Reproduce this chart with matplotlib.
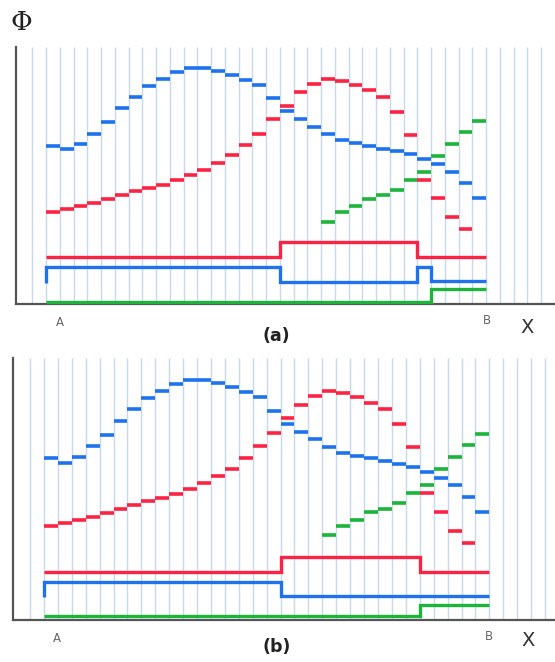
import numpy as np
import matplotlib
matplotlib.use("Agg")
import matplotlib.pyplot as plt

# ---------------- data (Φ in arbitrary units, x in cell index) ----------------
n_grid = 38  # vertical grid lines 0..37

# panel (a)
a_blue = [158.3, 154.7, 159.7, 170.3, 181.7, 195.7, 207, 218, 225.3, 231.7, 236, 236,
          233, 229.3, 224.3, 219, 205.7, 193, 184.7, 177, 170.3, 164.3, 160.7, 158.3,
          155.3, 153, 149.7, 144.7, 139.7, 132, 120.7, 105.7]
a_blue_cells = list(range(1, 33))
a_red = [92.3, 95.3, 98.3, 101.3, 105, 108.7, 113, 116.3, 119.3, 124, 129, 134.3, 141,
         148.7, 159.3, 170.3, 184.7, 198.3, 211.7, 220, 225, 223, 219.3, 213.7, 207,
         192.3, 169.3, 123.7, 105.7, 87.3, 74.7]
a_red_cells = list(range(1, 32))
a_green = [82.3, 91.7, 98.3, 105, 108.7, 114.3, 124, 132, 148, 160, 171.7, 183]
a_green_cells = list(range(21, 33))

a_red_edges = [1, 18, 28, 33]
a_red_levels = [47, 61.7, 47]
a_blue_edges = [1, 18, 28, 29, 33]
a_blue_levels = [36.7, 22.3, 37.3, 23]
a_blue_start = 21.3
a_green_edges = [1, 29, 33]
a_green_levels = [1.7, 14.7]

# panel (b)
b_blue = [161.7, 157.3, 162.7, 173.7, 185, 199.3, 210.7, 221.7, 229.3, 235.7, 240, 240,
          237.3, 233.3, 228, 223, 209.3, 196, 188, 180.7, 173.3, 167.3, 164.3, 161.7,
          158.7, 156, 153, 147.7, 142.3, 135, 123, 108]
b_blue_cells = list(range(1, 33))
b_red = [94, 97.3, 100.3, 103.3, 107.3, 111, 115.3, 119, 121.7, 126.3, 131.3, 137.3,
         144.3, 151.3, 162, 173.7, 187, 201.7, 215.3, 224, 228.7, 226.7, 223, 217.3, 211,
         195.7, 172.7, 126.7, 108, 89.3, 77]
b_red_cells = list(range(1, 32))
b_green = [84.7, 94, 100.3, 107.7, 111, 117, 126.7, 135.3, 150.7, 163, 175, 186]
b_green_cells = list(range(21, 33))

b_red_edges = [1, 18, 28, 33]
b_red_levels = [48.3, 63.3, 48.3]
b_blue_edges = [1, 18, 33]
b_blue_levels = [38.3, 24.3]
b_blue_start = 23.3
b_green_edges = [1, 28, 33]
b_green_levels = [4, 15]

# ---------------- style ----------------
BLUE = "#1f72ee"
RED = "#ff2343"
GREEN = "#1cb43a"
GRID = "#c9d9ea"
SPINE = "#555555"

W, H = 555, 662
fig = plt.figure(figsize=(W / 100, H / 100), dpi=100)


def make_ax(left_px, right_px, top_px, bottom_px, x0_px, dx_px, ytop):
    ax = fig.add_axes([left_px / W, 1 - bottom_px / H,
                       (right_px - left_px) / W, (bottom_px - top_px) / H])
    xmin = (left_px - x0_px) / dx_px
    xmax = (right_px - x0_px) / dx_px
    ax.set_xlim(xmin, xmax)
    ax.set_ylim(0, ytop)
    for s in ("top", "right"):
        ax.spines[s].set_visible(False)
    for s in ("left", "bottom"):
        ax.spines[s].set_color(SPINE)
        ax.spines[s].set_linewidth(1.6)
    ax.set_xticks([])
    ax.set_yticks([])
    ax.patch.set_alpha(0)
    ax.vlines(np.arange(n_grid), 0, ytop, color=GRID, lw=1.0, zorder=0)
    return ax


def step_xy(edges, levels, start=None):
    xs = np.repeat(edges, 2)[1:-1]
    ys = np.repeat(levels, 2)
    if start is not None:
        xs = np.r_[edges[0], xs]
        ys = np.r_[start, ys]
    return xs, ys


def draw(ax, blue, bc, red, rc, green, gc, steps):
    for vals, cells, col in ((blue, bc, BLUE), (red, rc, RED), (green, gc, GREEN)):
        c = np.array(cells)
        ax.hlines(vals, c, c + 1, colors=col, lw=2.6, zorder=3)
    for (edges, levels, start, col) in steps:
        xs, ys = step_xy(edges, levels, start)
        ax.plot(xs, ys, color=col, lw=2.4, solid_joinstyle="miter",
                solid_capstyle="butt", zorder=3, clip_on=False)


ax1 = make_ax(16, 555, 47, 304, 32.3, 13.75, 257)
draw(ax1, a_blue, a_blue_cells, a_red, a_red_cells, a_green, a_green_cells,
     [(a_red_edges, a_red_levels, None, RED),
      (a_blue_edges, a_blue_levels, a_blue_start, BLUE),
      (a_green_edges, a_green_levels, None, GREEN)])

ax2 = make_ax(13.3, 555, 358.3, 620, 30, 13.92, 261.7)
draw(ax2, b_blue, b_blue_cells, b_red, b_red_cells, b_green, b_green_cells,
     [(b_red_edges, b_red_levels, None, RED),
      (b_blue_edges, b_blue_levels, b_blue_start, BLUE),
      (b_green_edges, b_green_levels, None, GREEN)])


def ftext(x, y, s, **kw):
    fig.text(x / W, 1 - y / H, s, ha="center", va="center", **kw)


ftext(21, 22, "Φ", fontsize=19, family="DejaVu Serif", color="#222222")
ftext(59.5, 323, "A", fontsize=8.5, color="#666666")
ftext(487, 321, "B", fontsize=8.5, color="#666666")
ftext(527, 327, "X", fontsize=14, color="#333333")
ftext(276.5, 336, "(a)", fontsize=12.5, fontweight="bold", color="#222222")

ftext(57, 638, "A", fontsize=8.5, color="#666666")
ftext(489, 636, "B", fontsize=8.5, color="#666666")
ftext(528, 641, "X", fontsize=14, color="#333333")
ftext(276.5, 647, "(b)", fontsize=12.5, fontweight="bold", color="#222222")

fig.savefig("out.png", dpi=100)
